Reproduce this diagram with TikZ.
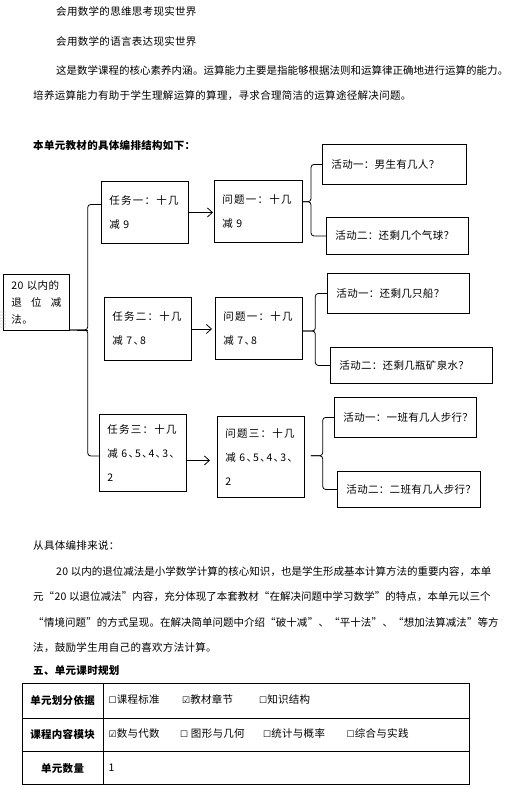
\documentclass[tikz,border=0pt]{standalone}
\usepackage{fontspec}
\setmainfont[LetterSpace=3]{Noto Sans CJK SC}
\newfontfamily\boxfont[LetterSpace=12]{Noto Sans CJK SC}
\newfontfamily\boxfonthalf[LetterSpace=12,RawFeature=+halt]{Noto Sans CJK SC}
\newfontfamily\symfont{DejaVu Sans}
\usetikzlibrary{arrows.meta,calc}
\XeTeXlinebreaklocale "zh"
\XeTeXlinebreakskip=0pt plus 3pt minus 1pt
\newcommand\ckbox[1]{{\symfont\fontsize{9}{9}\selectfont#1}}
\begin{document}
\begin{tikzpicture}[x=1pt,y=-1pt,
  txt/.style={anchor=west, inner sep=0pt, font=\fontsize{10.5}{12}\selectfont},
  head/.style={txt, font=\fontsize{10.5}{12}\selectfont\bfseries},
  jline/.style={anchor=west, inner sep=0pt, text width=#1, align=justify, font=\fontsize{10.5}{12}\selectfont},
  tbox/.style={draw, line width=0.9pt, anchor=north west, inner xsep=8pt, inner ysep=0pt, align=left, font=\boxfont\fontsize{10.5}{24}\selectfont},
  abox/.style={draw, line width=0.9pt, anchor=north west, inner xsep=9pt, inner ysep=0pt, align=left, font=\fontsize{10.5}{12}\selectfont},
  brace/.style={line width=0.8pt, rounded corners=3pt},
  arr/.style={line width=0.8pt, -{Straight Barb[length=5pt,width=9pt]}},
  cell/.style={draw, line width=0.8pt, anchor=north west, inner sep=0pt, font=\fontsize{10.5}{12}\selectfont}
]
\useasboundingbox[fill=white] (0,0) rectangle (526,788);

% top text
\node[txt] (l1) at (56,11.7) {会用数学的思维思考现实世界};
\node[txt] (l2) at (56,41) {会用数学的语言表达现实世界};
\node[jline=464pt] (l3) at (56,70) {\parfillskip=0pt\relax 这是数学课程的核心素养内涵。运算能力主要是指能够根据法则和运算律正确地进行运算的能力。};
\node[txt] (l4) at (33,96) {培养运算能力有助于学生理解运算的算理，寻求合理简洁的运算途径解决问题。};
\node[head] (h1) at (33,145) {本单元教材的具体编排结构如下：};

% root
\node[tbox, text width=50pt, minimum height=56pt, font=\fontsize{10.5}{17}\selectfont] (root) at (3,274)
  {\mbox{20 以内的}\\\makebox[50pt][s]{退\hfill 位\hfill 减}\\\mbox{法。}};
\foreach \gx in {1,3,5} \foreach \gy in {312,315,...,327}
  \fill[gray!70] (\gx,\gy) circle (0.55pt);

% row 1
\node[tbox, text width=71pt, minimum height=62pt] (t1) at (101,181) {\mbox{任务一：十几}\\\mbox{\boxfonthalf 减 9}};
\node[tbox, text width=72pt, minimum height=62pt] (q1) at (214,180) {\mbox{问题一：十几}\\\mbox{\boxfonthalf 减 9}};
\node[abox, text width=126pt, minimum height=40pt] (a11) at (322,144) {\mbox{活动一：男生有几人？}};
\node[abox, text width=124pt, minimum height=37pt] (a12) at (326,217) {\mbox{活动二：还剩几个气球？}};

% row 2
\node[tbox, text width=71pt, minimum height=63pt] (t2) at (104,297) {\mbox{任务二：十几}\\\mbox{\boxfonthalf 减 7、8}};
\node[tbox, text width=71pt, minimum height=62pt] (q2) at (215,297) {\mbox{问题一：十几}\\\mbox{\boxfonthalf 减 7、8}};
\node[abox, text width=124pt, minimum height=40pt] (a21) at (327,273) {\mbox{活动一：还剩几只船？}};
\node[abox, text width=144pt, minimum height=36pt] (a22) at (330,347) {\mbox{活动二：还剩几瓶矿泉水？}};

% row 3
\node[tbox, text width=71pt, minimum height=77pt] (t3) at (99,414) {\mbox{任务三：十几}\\\mbox{\boxfonthalf 减 6、5、4、3、}\\\mbox{2}};
\node[tbox, text width=71pt, minimum height=81pt] (q3) at (217,416) {\mbox{问题三：十几}\\\mbox{\boxfonthalf 减 6、5、4、3、}\\\mbox{2}};
\node[abox, text width=124pt, minimum height=40pt] (a31) at (334,397) {\mbox{活动一：一班有几人步行？}};
\node[abox, text width=125pt, minimum height=36pt] (a32) at (337,471) {\mbox{活动二：二班有几人步行？}};

% arrows
\draw[arr, shorten >=1pt] (t1.east) -- (t1.east -| q1.west);
\draw[arr, shorten >=3pt] (t2.east) -- (t2.east -| q2.west);
\draw[arr, shorten >=7pt] ([yshift=-7.5pt]t3.east) -- ([yshift=-7.5pt]t3.east -| q3.west);

% braces
\coordinate (s0) at (87.7,330);
\draw[brace] ([yshift=8pt]t1.west) -| (s0) -- (s0 -| root.east);
\draw[brace] ([yshift=-3pt]t3.west) -| (s0) -- (s0 -| root.east);
\draw[line width=0.8pt] (s0) -- ([xshift=7pt]s0 -| root.east);

\coordinate (s1) at (311,201.7);
\draw[brace] (a11.west) -| (s1) -- (s1 -| q1.east);
\draw[brace] (a12.west) -| (s1) -- (s1 -| q1.east);
\coordinate (s2) at (315.3,331);
\draw[brace] (a21.west) -| (s2) -- (s2 -| q2.east);
\draw[brace] (a22.west) -| (s2) -- (s2 -| q2.east);
\coordinate (s3) at (322.7,455.7);
\draw[brace] (a31.west) -| (s3) -- ([xshift=6pt]s3 -| q3.east);
\draw[brace] (a32.west) -| (s3) -- ([xshift=6pt]s3 -| q3.east);

% bottom text
\node[txt] (b0) at (33,545) {从具体编排来说：};
\node[jline=461pt] (b1) at (56,571.7) {\parfillskip=0pt\relax 20 以内的退位减法是小学数学计算的核心知识，也是学生形成基本计算方法的重要内容，本单};
\node[jline=484pt] (b2) at (33,597) {\parfillskip=0pt\relax 元“20 以退位减法”内容，充分体现了本套教材“在解决问题中学习数学”的特点，本单元以三个};
\node[jline=484pt] (b3) at (33,622.7) {\parfillskip=0pt\relax “情境问题”的方式呈现。在解决简单问题中介绍“破十减”、“平十法”、“想加法算减法”等方};
\node[txt] (b4) at (33,647.3) {法，鼓励学生用自己的喜欢方法计算。};
\node[head] (h2) at (33,670.7) {五、单元课时规划};

% table
\node[cell, minimum width=81pt, minimum height=34.4pt] (c11) at (21.7,683.3) {\bfseries 单元划分依据};
\node[cell, minimum width=366.6pt, minimum height=34.4pt] (c12) at (102.7,683.3) {};
\node[cell, minimum width=81pt, minimum height=33.6pt] (c21) at (21.7,717.7) {\bfseries 课程内容模块};
\node[cell, minimum width=366.6pt, minimum height=33.6pt] (c22) at (102.7,717.7) {};
\node[cell, minimum width=81pt, minimum height=32.7pt] (c31) at (21.7,751.3) {\bfseries 单元数量};
\node[cell, minimum width=366.6pt, minimum height=32.7pt] (c32) at (102.7,751.3) {};

\node[txt] (o11) at (108.5,699.3) {\ckbox{☐}课程标准};
\node[txt] (o12) at (182,699.3) {\ckbox{☑}教材章节};
\node[txt] (o13) at (259,699.3) {\ckbox{☐}知识结构};
\node[txt] (o21) at (108.5,733.3) {\ckbox{☑}数与代数};
\node[txt] (o22) at (180,733.3) {\ckbox{☐} 图形与几何};
\node[txt] (o23) at (263,733.3) {\ckbox{☐}统计与概率};
\node[txt] (o24) at (346.5,733.3) {\ckbox{☐}综合与实践};
\node[txt] (o31) at (108.5,767.3) {1};
\end{tikzpicture}
\end{document}
